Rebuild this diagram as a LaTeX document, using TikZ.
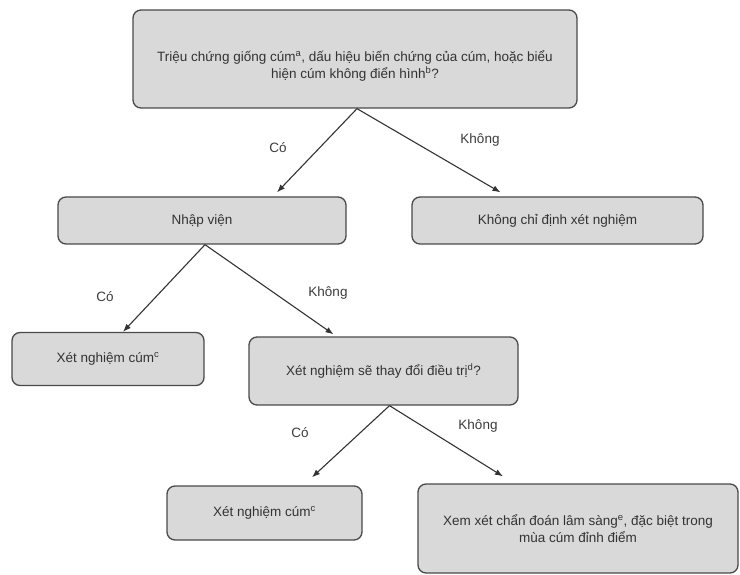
\documentclass[tikz,border=0pt]{standalone}
\usepackage{fontspec}
\setmainfont{Liberation Sans}
\usetikzlibrary{arrows.meta}

\definecolor{boxfill}{HTML}{D9D9D9}
\definecolor{boxline}{HTML}{4A4A4A}
\definecolor{arrowline}{HTML}{333333}
\definecolor{labeltext}{HTML}{3C3C3C}

\begin{document}
\begin{tikzpicture}[x=1pt,y=-1pt,
  box/.style={draw=boxline,fill=boxfill,rounded corners=8pt,line width=1.3pt,
    align=center,inner sep=0pt,text=black!80,font=\fontsize{13.5}{17}\selectfont},
  link/.style={draw=arrowline,line width=1.1pt,-{Latex[length=8pt,width=6pt]}},
  lbl/.style={text=labeltext,font=\fontsize{13.5}{17}\selectfont}]

% picture frame
\useasboundingbox (0,0) rectangle (740,575);

% first question
\node[box,minimum width=444pt,minimum height=98pt] (q1) at (355,59)
  {\raisebox{-11.5pt}[0pt][0pt]{\begin{tabular}{@{}c@{}}
   Triệu chứng giống cúm\textsuperscript{a}, dấu hiệu biến chứng của cúm, hoặc biểu\\
   hiện cúm không điển hình\textsuperscript{b}?\end{tabular}}};

% second level
\node[box,minimum width=288pt,minimum height=47pt] (hosp) at (202,220.5) {Nhập viện};
\node[box,minimum width=291pt,minimum height=47pt] (notest) at (557.5,220.5)
  {Không chỉ định xét nghiệm};

% third level
\node[box,minimum width=192pt,minimum height=53pt] (test1) at (108,359)
  {Xét nghiệm cúm\textsuperscript{c}};
\node[box,minimum width=269pt,minimum height=68pt] (q2) at (383.5,371)
  {Xét nghiệm sẽ thay đổi điều trị\textsuperscript{d}?};

% fourth level
\node[box,minimum width=195pt,minimum height=54pt] (test2) at (264.5,513)
  {Xét nghiệm cúm\textsuperscript{c}};
\node[box,minimum width=320pt,minimum height=89pt] (clin) at (578,528.5)
  {Xem xét chẩn đoán lâm sàng\textsuperscript{e}, đặc biệt trong\\
   mùa cúm đỉnh điểm};

% arrows from first question
\draw[link] ([xshift=2pt]q1.south) -- ([xshift=75pt,yshift=4pt]hosp.north);
\draw[link] ([xshift=2pt]q1.south) -- ([xshift=-57pt,yshift=4pt]notest.north);
\node[lbl] (yes1) at (278,148) {Có};
\node[lbl] (no1) at (480,140) {Không};

% arrows from admission
\draw[link] ([xshift=3pt]hosp.south) -- ([xshift=15pt]test1.north);
\draw[link] ([xshift=3pt]hosp.south) -- ([xshift=-50pt,yshift=2pt]q2.north);
\node[lbl] (yes2) at (105,297) {Có};
\node[lbl] (no2) at (328,293) {Không};

% arrows from second question
\draw[link] ([xshift=6pt]q2.south) -- ([xshift=47.5pt,yshift=8pt]test2.north);
\draw[link] ([xshift=6pt]q2.south) -- ([xshift=-75pt,yshift=7pt]clin.north);
\node[lbl] (yes3) at (300,433) {Có};
\node[lbl] (no3) at (478,426) {Không};

\end{tikzpicture}
\end{document}
